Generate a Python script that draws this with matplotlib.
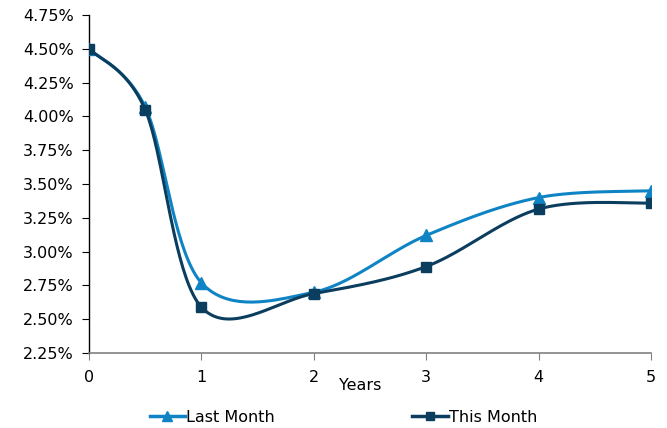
import matplotlib
matplotlib.use("Agg")
from matplotlib import pyplot as plt
from matplotlib.ticker import FuncFormatter
import numpy as np

years = [0, 0.5, 1, 2, 3, 4, 5]
last_month = [4.50, 4.07, 2.77, 2.70, 3.12, 3.40, 3.45]
this_month = [4.50, 4.05, 2.59, 2.69, 2.89, 3.315, 3.36]

light_blue = "#0f84c4"
dark_blue = "#0b3d5e"


def smooth(xs, ys, n=40):
    # Excel-style smoothed line: cubic bezier through each pair of points
    xs = np.asarray(xs, float)
    ys = np.asarray(ys, float)
    px = np.concatenate([[xs[0]], xs, [xs[-1]]])
    py = np.concatenate([[ys[0]], ys, [ys[-1]]])
    t = np.linspace(0, 1, n)
    out_x, out_y = [], []
    for i in range(1, len(px) - 2):
        p0 = np.array([px[i], py[i]])
        p3 = np.array([px[i + 1], py[i + 1]])
        c1 = p0 + (np.array([px[i + 1], py[i + 1]]) - np.array([px[i - 1], py[i - 1]])) / 6
        c2 = p3 - (np.array([px[i + 2], py[i + 2]]) - np.array([px[i], py[i]])) / 6
        b = ((1 - t) ** 3)[:, None] * p0 + (3 * (1 - t) ** 2 * t)[:, None] * c1 \
            + (3 * (1 - t) * t ** 2)[:, None] * c2 + (t ** 3)[:, None] * p3
        out_x.extend(b[:, 0])
        out_y.extend(b[:, 1])
    return out_x, out_y


plt.rcParams['font.family'] = ['DejaVu Sans']
fig = plt.figure(figsize=(6.67, 4.28), dpi=100)
ax = fig.add_axes([0.1334, 0.175, 0.976 - 0.1334, 0.965 - 0.175])

sx, sy = smooth(years, last_month)
ax.plot(sx, sy, color=light_blue, lw=2.2, zorder=2)
ax.plot(years, last_month, ls="none", marker="^", ms=9, color=light_blue, zorder=3)
sx, sy = smooth(years, this_month)
ax.plot(sx, sy, color=dark_blue, lw=2.2, zorder=4)
ax.plot(years, this_month, ls="none", marker="s", ms=7, color=dark_blue, zorder=5)

ax.set_xlim(0, 5)
ax.set_ylim(2.25, 4.75)
ax.set_xticks([0, 1, 2, 3, 4, 5])
ax.set_yticks(np.arange(2.25, 4.76, 0.25))
ax.yaxis.set_major_formatter(FuncFormatter(lambda v, p: "%.2f%%" % v))
ax.tick_params(labelsize=11.5, color="black", length=5, direction="out", pad=6)
ax.tick_params(axis="x", color="#808080", pad=7)
for s in ["top", "right"]:
    ax.spines[s].set_visible(False)
ax.spines["bottom"].set_color("#808080")
ax.spines["bottom"].set_linewidth(1.2)
ax.spines["left"].set_linewidth(1.0)

fig.text(0.54, 0.1, "Years", fontsize=11.5, ha="center", va="center")

h1, = ax.plot([], [], color=light_blue, lw=2.5, marker="^", ms=7.5)
h2, = ax.plot([], [], color=dark_blue, lw=2.5, marker="s", ms=6)
fig.legend([h1, h2], ["Last Month", "This Month"], loc="center", ncol=2,
           bbox_to_anchor=(0.515, 0.025), frameon=False, fontsize=11.5,
           handlelength=2.2, handletextpad=0.1, columnspacing=8.6)

fig.savefig("out.png", dpi=100)
